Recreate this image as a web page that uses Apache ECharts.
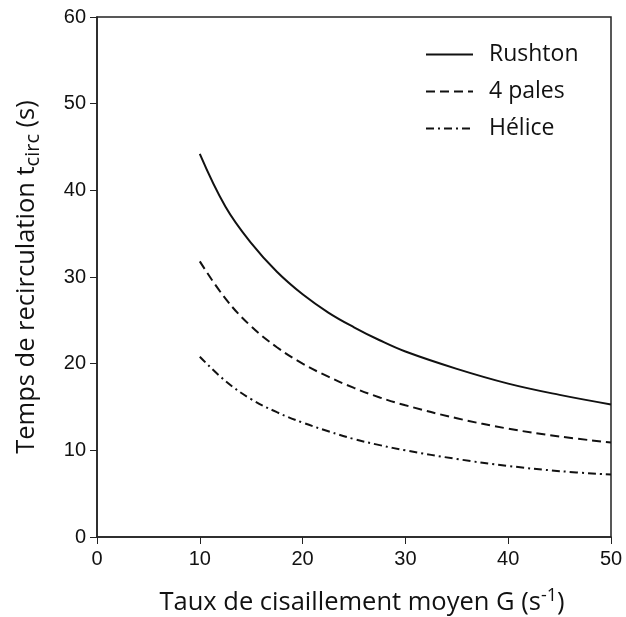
<!DOCTYPE html>
<html>
<head>
<meta charset="utf-8">
<script src="https://cdn.jsdelivr.net/npm/echarts@6/dist/echarts.min.js"></script>
<style>html,body{margin:0;padding:0;background:#fff}#c{width:626px;height:617px}</style>
</head>
<body>
<div id="c"></div>
<script>
const G = [10, 12.5, 15, 17.5, 20, 22.5, 25, 27.5, 30, 35, 40, 45, 50];
const rushton = [44.2, 38.1, 33.9, 30.6, 28.0, 25.9, 24.2, 22.7, 21.4, 19.4, 17.7, 16.4, 15.3];
const pales4 = [31.8, 27.5, 24.3, 21.9, 20.0, 18.5, 17.2, 16.1, 15.2, 13.7, 12.5, 11.6, 10.9];
const helice = [20.8, 18.0, 15.9, 14.4, 13.2, 12.2, 11.3, 10.6, 10.0, 9.0, 8.2, 7.6, 7.2];
const seriesNames = ['Rushton', '4 pales', 'Hélice'];

const chart = echarts.init(document.getElementById('c'));
const pair = (ys) => G.map((g, i) => [g, ys[i]]);
const labelFont = {color: '#111', fontFamily: 'Liberation Sans', fontSize: 20};
const titleFont = {color: '#111', fontFamily: 'Open Sans', fontSize: 25.5};
chart.setOption({
  animation: false,
  backgroundColor: '#fff',
  grid: {left: 97, right: 15, top: 17, bottom: 80, outerBoundsMode: 'none', containLabel: false,
         show: true, borderColor: '#222', borderWidth: 1.5, backgroundColor: 'transparent'},
  legend: {
    left: 420, top: 38, orient: 'vertical', itemWidth: 47, itemHeight: 14, itemGap: 14,
    data: seriesNames,
    itemStyle: {opacity: 0},
    textStyle: {color: '#111', fontFamily: 'Open Sans', fontSize: 23, padding: [0, 0, 0, 11]}
  },
  xAxis: {
    type: 'value', min: 0, max: 50, interval: 10,
    name: 'Taux de cisaillement moyen G (s{sup|-1})', nameLocation: 'middle', nameGap: 50,
    nameTextStyle: Object.assign({}, titleFont, {padding: [0, 0, 0, 16], rich: {sup: {fontFamily: 'Open Sans', fontSize: 18, color: '#111', padding: [0, 0, 14, 0]}}}),
    axisLine: {show: true, lineStyle: {color: '#222', width: 1.5}},
    axisTick: {show: true, length: 7, lineStyle: {color: '#222'}},
    axisLabel: Object.assign({}, labelFont, {margin: 12}),
    splitLine: {show: false}
  },
  yAxis: {
    type: 'value', min: 0, max: 60, interval: 10,
    name: 'Temps de recirculation t{sub|circ} (s)', nameLocation: 'middle', nameGap: 54,
    nameTextStyle: Object.assign({}, titleFont, {rich: {sub: {fontFamily: 'Open Sans', fontSize: 20, color: '#111', padding: [12, 0, 0, 0]}}}),
    axisLine: {show: true, lineStyle: {color: '#222', width: 1.5}},
    axisTick: {show: true, length: 7, lineStyle: {color: '#222'}},
    axisLabel: Object.assign({}, labelFont, {margin: 11}),
    splitLine: {show: false}
  },
  series: [
    {name: seriesNames[0], type: 'line', smooth: 0.4, showSymbol: false, symbol: 'none', data: pair(rushton),
     lineStyle: {color: '#111', width: 2, type: 'solid'}, itemStyle: {color: '#111'}},
    {name: seriesNames[1], type: 'line', smooth: 0.4, showSymbol: false, symbol: 'none', data: pair(pales4),
     lineStyle: {color: '#111', width: 2, type: [9, 5]}, itemStyle: {color: '#111'}},
    {name: seriesNames[2], type: 'line', smooth: 0.4, showSymbol: false, symbol: 'none', data: pair(helice),
     lineStyle: {color: '#111', width: 2, type: [8, 4, 2, 4]}, itemStyle: {color: '#111'}}
  ]
});
</script>
</body>
</html>
